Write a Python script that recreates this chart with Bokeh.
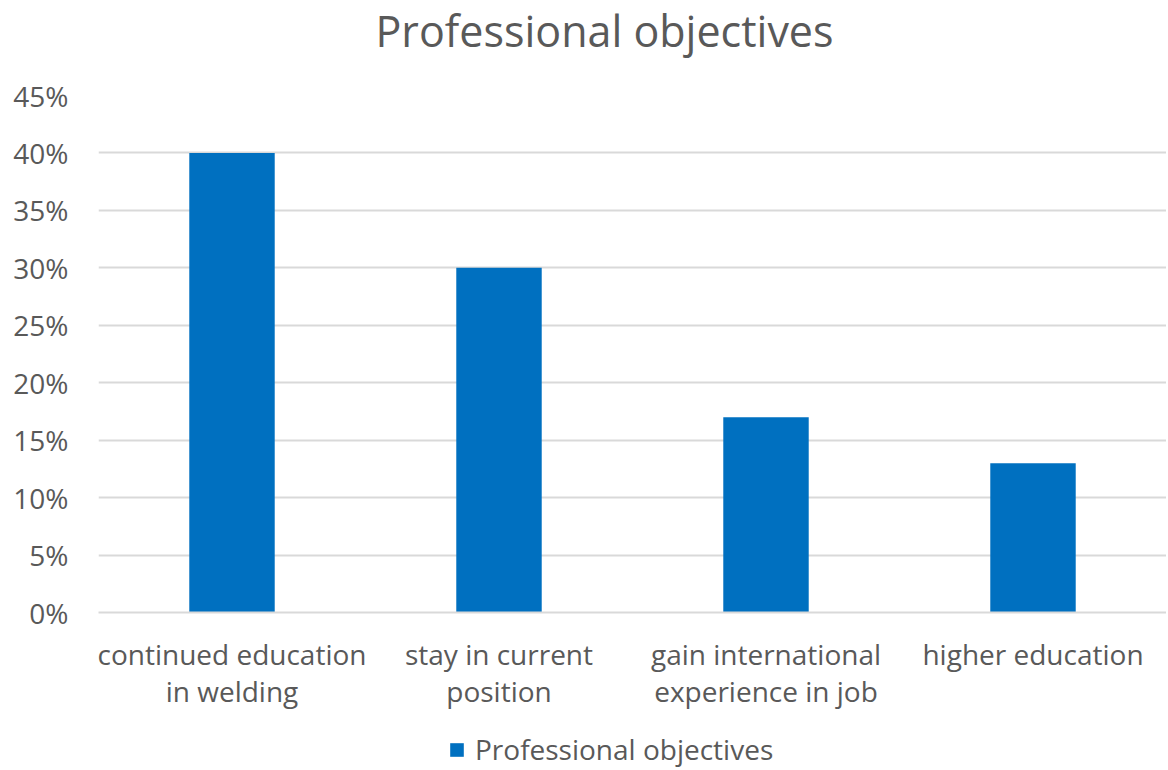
from bokeh.plotting import figure
from bokeh.layouts import column
from bokeh.models import (FactorRange, Range1d, FixedTicker, NumeralTickFormatter, Legend,
                          LegendItem, Label)
from bokeh.embed import file_html
from bokeh.resources import INLINE

categories = ["continued education\nin welding", "stay in current\nposition",
              "gain international\nexperience in job", "higher education"]
values = [0.40, 0.30, 0.17, 0.13]
y_ticks = [0.0, 0.05, 0.10, 0.15, 0.20, 0.25, 0.30, 0.35, 0.40, 0.45]
series_name = "Professional objectives"
title_text = "Professional objectives"

FONT = "Open Sans"
TXT = "#595959"
BAR = "#0070C0"

# title strip
tt = figure(width=1166, height=60, x_range=Range1d(0, 1), y_range=Range1d(0, 1),
            x_axis_type=None, y_axis_type=None, output_backend="svg", toolbar_location=None,
            min_border=0)
tt.outline_line_color = None
tt.grid.grid_line_color = None
tt.add_layout(Label(x=506, y=30, x_units="screen", y_units="screen", text=title_text,
                    text_align="center", text_baseline="alphabetic", text_font=FONT,
                    text_font_size="43px", text_color=TXT))

p = figure(width=1166, frame_height=517, x_range=FactorRange(*categories, range_padding=0),
           y_range=Range1d(0, 0.45), output_backend="svg", toolbar_location=None,
           min_border_left=98, min_border_right=0, min_border_top=35, min_border_bottom=0)
p.outline_line_color = None
p.background_fill_color = "white"
p.border_fill_color = "white"

r = p.vbar(x=categories, top=values, width=0.32, fill_color=BAR, line_color=None)

p.xgrid.grid_line_color = None
p.ygrid.grid_line_color = "#D9D9D9"
p.ygrid.grid_line_width = 2
p.ygrid.ticker = FixedTicker(ticks=y_ticks)

p.yaxis.ticker = FixedTicker(ticks=y_ticks)
p.yaxis.formatter = NumeralTickFormatter(format="0%")
p.yaxis.axis_line_color = None
p.yaxis.major_tick_line_color = None
p.yaxis.minor_tick_line_color = None
p.yaxis.major_label_standoff = 24
p.yaxis.major_label_text_font = FONT
p.yaxis.major_label_text_font_size = "28px"
p.yaxis.major_label_text_color = TXT

p.xaxis.axis_line_color = "#D9D9D9"
p.xaxis.axis_line_width = 2
p.xaxis.major_tick_line_color = None
p.xaxis.minor_tick_line_color = None
p.xaxis.major_label_standoff = 16
p.xaxis.major_label_text_font = FONT
p.xaxis.major_label_text_font_size = "28px"
p.xaxis.major_label_text_color = TXT
p.xaxis.major_label_text_line_height = 0.98

# legend strip below the chart (its bars lie outside its visible y range)
lg = figure(width=1166, height=56, x_range=FactorRange(*categories), y_range=Range1d(1, 2),
            x_axis_type=None, y_axis_type=None, output_backend="svg", toolbar_location=None,
            min_border=0)
lg.outline_line_color = None
lg.grid.grid_line_color = None
r2 = lg.vbar(x=categories, top=values, width=0.32, fill_color=BAR, line_color=None)
legend = Legend(items=[LegendItem(label=series_name, renderers=[r2])],
                orientation="horizontal", location=(350, 0),
                label_text_font=FONT, label_text_font_size="28px", label_text_color=TXT,
                glyph_width=17, glyph_height=17, border_line_color=None,
                background_fill_alpha=0, margin=0, padding=0, label_standoff=10)
lg.add_layout(legend, "center")

layout = column(tt, p, lg, spacing=0)
open("out.html", "w").write(file_html(layout, INLINE))
